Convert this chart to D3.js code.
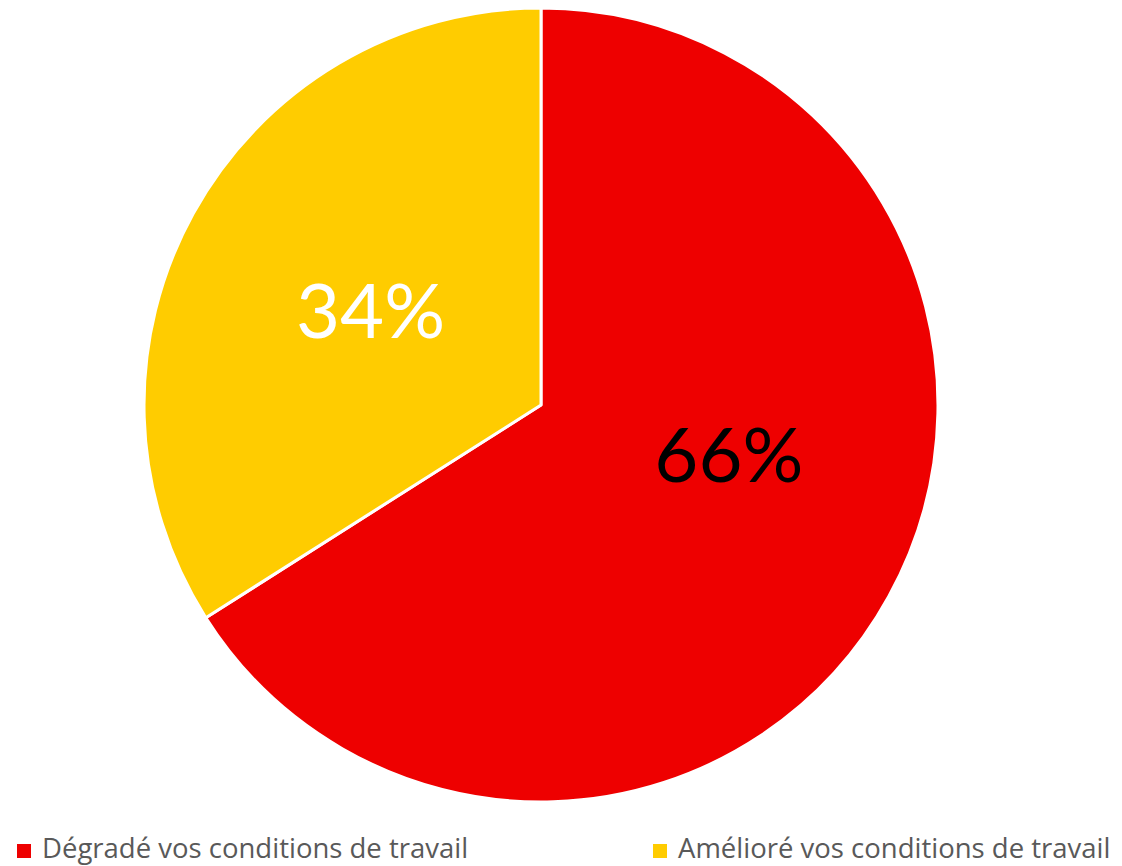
<!DOCTYPE html>
<html><head><meta charset="utf-8">
<script src="https://cdn.jsdelivr.net/npm/d3@7"></script>
<style>html,body{margin:0;padding:0;background:#fff;}</style>
</head><body>
<svg id="chart" width="1122" height="866"></svg>
<script>
const categories = ["Dégradé vos conditions de travail", "Amélioré vos conditions de travail"];
const values = [66, 34];
const colors = ["#EE0000", "#FFCC00"];
const labelColors = ["#000000", "#FFFFFF"];

const svg = d3.select("#chart");
const cx = 541, cy = 405, r = 397;
const pie = d3.pie().sort(null).value(d => d)(values);
const arc = d3.arc().innerRadius(0).outerRadius(r);
const g = svg.append("g").attr("transform", `translate(${cx},${cy})`);
g.selectAll("path").data(pie).join("path")
  .attr("d", arc).attr("fill", (d,i) => colors[i])
  .attr("stroke", "#fff").attr("stroke-width", 3).attr("stroke-linejoin", "round");
// label placement (best-fit style): radius fraction and angular nudge per slice
const labelRadius = [0.49, 0.49];
const labelAngleShift = [-0.24, 0];
g.selectAll("text").data(pie).join("text")
  .attr("transform", (d,i) => {
    const a = (d.startAngle + d.endAngle) / 2 + labelAngleShift[i];
    const rr = r * labelRadius[i];
    return `translate(${rr*Math.sin(a)},${-rr*Math.cos(a)})`;
  })
  .attr("text-anchor", "middle").attr("dy", "0.35em")
  .attr("font-family", "Lato, 'Open Sans', sans-serif").attr("font-size", 76)
  .attr("fill", (d,i) => labelColors[i])
  .text((d,i) => values[i] + "%");

const legendX = [17, 653];
const lg = svg.append("g");
categories.forEach((c, i) => {
  lg.append("rect").attr("x", legendX[i]).attr("y", 844).attr("width", 14).attr("height", 14).attr("fill", colors[i]);
  lg.append("text").attr("x", legendX[i] + 25).attr("y", 858)
    .attr("font-family", "'Open Sans', Lato, sans-serif").attr("font-size", 27.5)
    .attr("fill", "#595959").text(c);
});
</script>
</body></html>
